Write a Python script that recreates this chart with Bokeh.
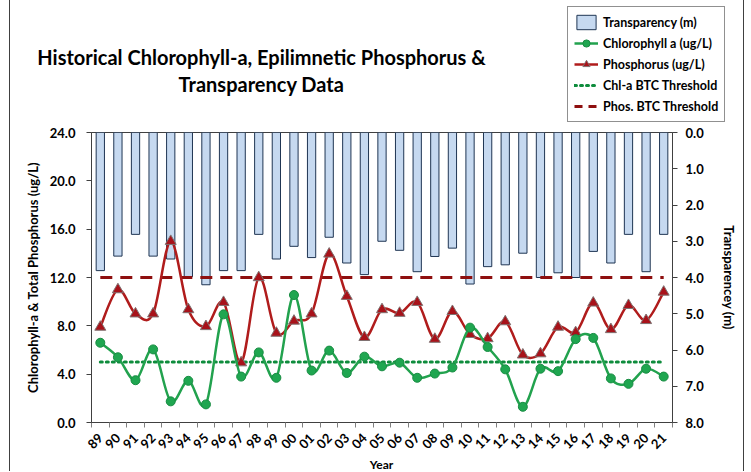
import math
from bokeh.plotting import figure
from bokeh.layouts import column
from bokeh.models import (Range1d, LinearAxis, FixedTicker, PrintfTickFormatter,
                          Legend, LegendItem, Label)
from bokeh.embed import file_html
from bokeh.resources import INLINE

# ---------------- data ----------------
years = ["89", "90", "91", "92", "93", "94", "95", "96", "97", "98", "99",
         "00", "01", "02", "03", "04", "05", "06", "07", "08", "09", "10",
         "11", "12", "13", "14", "15", "16", "17", "18", "19", "20", "21"]
transparency = [3.81, 3.41, 2.81, 3.41, 3.49, 3.98, 4.20, 3.81, 3.81, 2.81,
                3.49, 3.14, 3.45, 2.89, 3.60, 3.92, 3.00, 3.25, 3.84, 3.42,
                3.19, 4.18, 3.70, 3.65, 3.33, 4.00, 3.87, 4.00, 3.28, 3.60,
                2.81, 3.84, 2.81]
chlorophyll = [6.6, 5.4, 3.5, 6.05, 1.75, 3.45, 1.5, 8.95, 3.8, 5.8,
               3.7, 10.55, 4.3, 5.95, 4.1, 5.45, 4.65, 4.95, 3.7, 4.05,
               4.55, 7.85, 6.25, 4.4, 1.3, 4.45, 4.25, 6.9, 7.0, 3.65,
               3.2, 4.45, 3.8]
phosphorus = [7.9, 11.0, 9.0, 9.0, 15.0, 9.35, 7.95, 9.95, 4.95, 12.0,
              7.4, 8.4, 9.0, 13.95, 10.45, 7.05, 9.35, 9.05, 9.95, 6.9,
              9.2, 7.3, 6.95, 8.35, 5.6, 5.7, 7.9, 7.45, 9.9, 7.7,
              9.7, 8.45, 10.8]
chl_threshold = 5.0
phos_threshold = 12.0
left_ticks = [0, 4, 8, 12, 16, 20, 24]
right_ticks = [0, 1, 2, 3, 4, 5, 6, 7, 8]
title_lines = ["Historical Chlorophyll-a, Epilimnetic Phosphorus &",
               "Transparency Data"]

FONT = "Lato"
X0 = 10          # left edge of the chart box on the page
W = 733          # width of each stacked figure
n = len(years)
xs = list(range(n))
NAN = float("nan")

BAR_FILL, BAR_LINE = "#C6D9F0", "#1F3553"
CHL_LINE, CHL_FILL, CHL_EDGE = "#22A24E", "#1FA650", "#178C42"
PH_LINE, PH_FILL, PH_EDGE = "#B01C1C", "#A8121A", "#7F7272"
CHL_TH, PH_TH = "#0E8C3C", "#8E0F0F"


def smooth_segments(px, py):
    """Bezier control points for a smoothed line through the data points."""
    x0, y0, x1, y1, cx0, cy0, cx1, cy1 = [], [], [], [], [], [], [], []
    m = len(px)
    for i in range(m - 1):
        a = i - 1 if i > 0 else i
        d = i + 2 if i + 2 < m else i + 1
        x0.append(px[i]); y0.append(py[i])
        x1.append(px[i + 1]); y1.append(py[i + 1])
        cx0.append(px[i] + (px[i + 1] - px[a]) / 6.0)
        cy0.append(py[i] + (py[i + 1] - py[a]) / 6.0)
        cx1.append(px[i + 1] - (px[d] - px[i]) / 6.0)
        cy1.append(py[i + 1] - (py[d] - py[i]) / 6.0)
    return dict(x0=x0, y0=y0, x1=x1, y1=y1, cx0=cx0, cy0=cy0, cx1=cx1, cy1=cy1)


def bare(fig):
    fig.outline_line_color = None
    fig.grid.visible = False
    fig.background_fill_color = "white"
    fig.border_fill_color = "white"
    fig.frame_align = False


# ---------------- header: title + legend ----------------
HH = 124
header = figure(width=W, height=HH, output_backend="svg", toolbar_location=None,
                title=None, x_axis_type=None, y_axis_type=None,
                x_range=Range1d(X0, X0 + W), y_range=Range1d(HH, 0),
                min_border_left=0, min_border_right=0, min_border_top=0,
                min_border_bottom=0)
bare(header)
for txt, yy in zip(title_lines, (56.5, 83.5)):
    header.add_layout(Label(x=261, y=yy, text=txt, text_align="center",
                            text_baseline="middle", text_font=FONT,
                            text_font_style="bold", text_font_size="20px",
                            text_color="#000000"))

lg_bar = header.vbar(x=[NAN], top=[NAN], bottom=[NAN], width=1,
                     fill_color=BAR_FILL, line_color=BAR_LINE, line_width=1)
lg_chl_l = header.line([NAN], [NAN], line_color=CHL_LINE, line_width=2.5)
lg_chl_m = header.scatter([NAN], [NAN], marker="circle", size=9,
                          fill_color=CHL_FILL, line_color=CHL_EDGE)
lg_ph_l = header.line([NAN], [NAN], line_color=PH_LINE, line_width=2.5)
lg_ph_m = header.scatter([NAN], [NAN], marker="triangle", size=11,
                         fill_color=PH_FILL, line_color=PH_EDGE)
lg_chl_th = header.line([NAN], [NAN], line_color=CHL_TH, line_width=3,
                        line_dash="2 4", line_cap="round")
lg_ph_th = header.line([NAN], [NAN], line_color=PH_TH, line_width=3,
                       line_dash="8 6")

legend = Legend(items=[
    LegendItem(label="Transparency (m)", renderers=[lg_bar]),
    LegendItem(label="Chlorophyll a (ug/L)", renderers=[lg_chl_l, lg_chl_m]),
    LegendItem(label="Phosphorus (ug/L)", renderers=[lg_ph_l, lg_ph_m]),
    LegendItem(label="Chl-a BTC Threshold", renderers=[lg_chl_th]),
    LegendItem(label="Phos. BTC Threshold", renderers=[lg_ph_th]),
], location=(567 - X0, 2))
legend.margin = 0
legend.padding = 6
legend.spacing = 3
legend.glyph_width = 24
legend.glyph_height = 18
legend.label_height = 18
legend.label_standoff = 5
legend.label_text_font = FONT
legend.label_text_font_style = "bold"
legend.label_text_font_size = "12.5px"
legend.label_text_color = "#000000"
legend.border_line_color = "#222222"
legend.border_line_width = 1
legend.background_fill_color = "white"
legend.background_fill_alpha = 1
header.add_layout(legend, "center")

# ---------------- main chart ----------------
MH = 332
p = figure(width=W, height=MH, output_backend="svg", toolbar_location=None,
           title=None, x_range=Range1d(-0.5, n - 0.5), y_range=Range1d(0, 24),
           min_border_left=91 - X0, min_border_right=X0 + W - 672,
           min_border_top=8, min_border_bottom=34)
bare(p)
p.outline_line_color = "#404040"
p.extra_y_ranges = {"t": Range1d(8, 0)}

p.vbar(x=xs, width=0.47, top=0, bottom=transparency, y_range_name="t",
       fill_color=BAR_FILL, line_color=BAR_LINE, line_width=1)
p.line(xs, [chl_threshold] * n, line_color=CHL_TH, line_width=3,
       line_dash="2 4", line_cap="round")
p.line(xs, [phos_threshold] * n, line_color=PH_TH, line_width=3,
       line_dash="12 8")
p.bezier(line_color=PH_LINE, line_width=2.5, **smooth_segments(xs, phosphorus))
p.scatter(xs, phosphorus, marker="triangle", size=11, fill_color=PH_FILL,
          line_color=PH_EDGE, line_width=1)
p.bezier(line_color=CHL_LINE, line_width=2.5, **smooth_segments(xs, chlorophyll))
p.scatter(xs, chlorophyll, marker="circle", size=9, fill_color=CHL_FILL,
          line_color=CHL_EDGE, line_width=1)

xa = p.xaxis[0]
xa.ticker = FixedTicker(ticks=xs, minor_ticks=[i - 0.5 for i in range(n + 1)])
xa.major_label_overrides = {i: yv for i, yv in enumerate(years)}
xa.major_label_orientation = math.pi / 4
xa.major_tick_line_color = None
xa.minor_tick_line_color = "#808080"
xa.minor_tick_out = 5
xa.minor_tick_in = 0
xa.major_label_standoff = 7

ya = p.yaxis[0]
ya.ticker = FixedTicker(ticks=left_ticks)
ya.formatter = PrintfTickFormatter(format="%.1f")
ya.axis_label = "Chlorophyll-a & Total Phosphorus (ug/L)"
ya.major_label_standoff = 11
ya.axis_label_standoff = 6

ra = LinearAxis(y_range_name="t", ticker=FixedTicker(ticks=right_ticks),
                formatter=PrintfTickFormatter(format="%.1f"),
                axis_label="Transparencey (m)")
ra.major_label_standoff = 8
ra.axis_label_standoff = 14
p.add_layout(ra, "right")

for ax in (xa, ya, ra):
    ax.axis_line_color = "#404040"
    ax.major_label_text_font = FONT
    ax.major_label_text_font_style = "bold"
    ax.major_label_text_font_size = "13px"
    ax.major_label_text_color = "#000000"
    ax.axis_label_text_font = FONT
    ax.axis_label_text_font_style = "bold"
    ax.axis_label_text_font_size = "13px"
    ax.axis_label_text_color = "#000000"
for ax in (ya, ra):
    ax.major_tick_line_color = "#404040"
    ax.major_tick_out = 5
    ax.major_tick_in = 0
    ax.minor_tick_line_color = None

# ---------------- footer: x-axis title ----------------
FH = 15
footer = figure(width=W, height=FH, output_backend="svg", toolbar_location=None,
                title=None, x_axis_type=None, y_axis_type=None,
                x_range=Range1d(X0, X0 + W), y_range=Range1d(FH, 0),
                min_border_left=0, min_border_right=0, min_border_top=0,
                min_border_bottom=0)
bare(footer)
footer.add_layout(Label(x=381, y=7.5, text="Year", text_align="center",
                        text_baseline="middle", text_font=FONT,
                        text_font_style="bold", text_font_size="12px",
                        text_color="#000000"))

page = column(header, p, footer, spacing=0,
              styles={"margin-left": "%dpx" % (X0 - 1),
                      "box-sizing": "content-box",
                      "border-left": "1px solid #404040",
                      "border-right": "1px solid #404040"})

open("out.html", "w").write(file_html(page, INLINE))
